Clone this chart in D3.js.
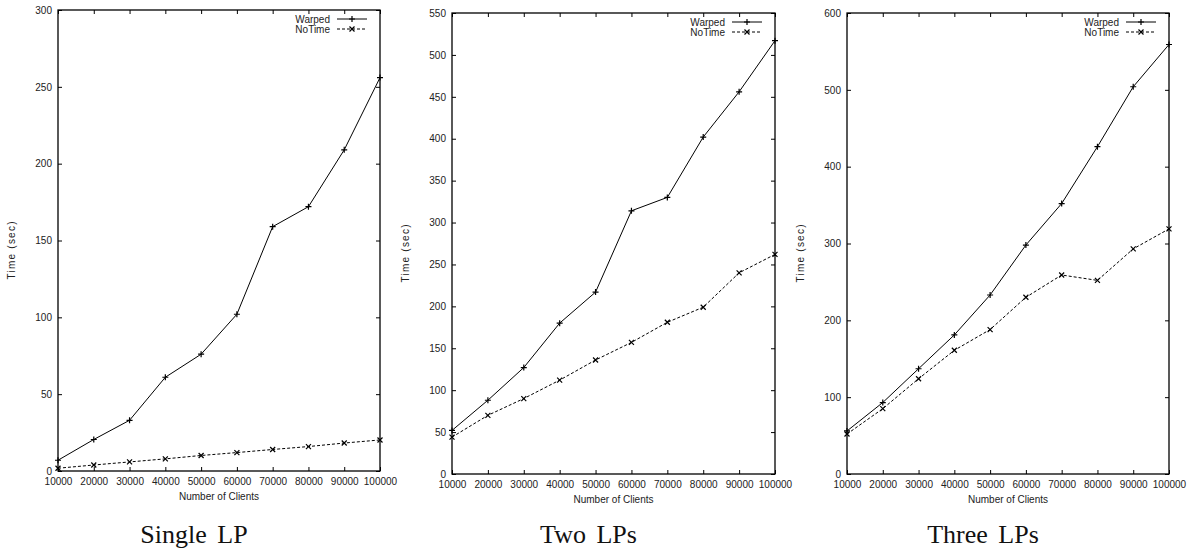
<!DOCTYPE html>
<html>
<head>
<meta charset="utf-8">
<script src="https://cdn.jsdelivr.net/npm/d3@7/dist/d3.min.js"></script>
<style>
  body { margin: 0; background: #fff; }
  svg { display: block; }
  .tick-label { font-family: "Liberation Sans", Arial, sans-serif; font-size: 10px; fill: #222; }
  .axis-title { font-family: "Liberation Sans", Arial, sans-serif; font-size: 10px; fill: #222; }
  .panel-title { font-family: "Liberation Serif", "Times New Roman", serif; font-size: 26px; fill: #111; }
</style>
</head>
<body>
<svg id="chart" width="1191" height="552"></svg>
<script>
// ---- data ----
const clients = [10000, 20000, 30000, 40000, 50000, 60000, 70000, 80000, 90000, 100000];
const panelTitles = ["Single LP", "Two LPs", "Three LPs"];
const seriesNames = ["Warped", "NoTime"];

const warpedSingle = [7, 20.5, 33, 61, 76, 102, 159, 172, 209, 256];
const noTimeSingle = [1.8, 3.9, 5.9, 7.9, 10.1, 12, 14, 15.9, 18.2, 20.2];

const warpedTwo = [52, 88, 127, 180, 217, 314, 330, 402, 456, 517];
const noTimeTwo = [44, 70, 90, 112, 136, 157, 181, 199, 240, 262];

const warpedThree = [56, 93, 137, 181, 233, 298, 352, 426, 504, 559];
const noTimeThree = [52, 85, 124, 161, 188, 230, 259, 252, 293, 319];

const yTicksSingle = [0, 50, 100, 150, 200, 250, 300];
const yTicksTwo = [0, 50, 100, 150, 200, 250, 300, 350, 400, 450, 500, 550];
const yTicksThree = [0, 100, 200, 300, 400, 500, 600];

const xLabel = "Number of Clients";
const yLabel = "Time (sec)";

// ---- layout ----
const panels = [
  { title: panelTitles[0], warped: warpedSingle, noTime: noTimeSingle, yTicks: yTicksSingle, L: 58, R: 380, T: 10, B: 471 },
  { title: panelTitles[1], warped: warpedTwo, noTime: noTimeTwo, yTicks: yTicksTwo, L: 452, R: 775, T: 13, B: 474 },
  { title: panelTitles[2], warped: warpedThree, noTime: noTimeThree, yTicks: yTicksThree, L: 847, R: 1169, T: 13, B: 474 }
];

const svg = d3.select("#chart");
const tickLen = 4;

panels.forEach(p => {
  const g = svg.append("g");
  const x = d3.scaleLinear().domain([clients[0], clients[clients.length - 1]]).range([p.L, p.R]);
  const y = d3.scaleLinear().domain([p.yTicks[0], p.yTicks[p.yTicks.length - 1]]).range([p.B, p.T]);

  // x axis bottom (inward ticks) and top mirror
  const xb = g.append("g").attr("transform", `translate(0,${p.B})`)
    .call(d3.axisBottom(x).tickValues(clients).tickSizeInner(-tickLen).tickSizeOuter(0).tickPadding(8).tickFormat(d3.format("d")));
  const xt = g.append("g").attr("transform", `translate(0,${p.T})`)
    .call(d3.axisTop(x).tickValues(clients).tickSizeInner(-tickLen).tickSizeOuter(0).tickFormat(""));
  const yl = g.append("g").attr("transform", `translate(${p.L},0)`)
    .call(d3.axisLeft(y).tickValues(p.yTicks).tickSizeInner(-tickLen).tickSizeOuter(0).tickPadding(6).tickFormat(d3.format("d")));
  const yr = g.append("g").attr("transform", `translate(${p.R},0)`)
    .call(d3.axisRight(y).tickValues(p.yTicks).tickSizeInner(-tickLen).tickSizeOuter(0).tickFormat(""));

  [xb, xt, yl, yr].forEach(a => {
    a.select(".domain").remove();
    a.selectAll("line").attr("stroke", "#000").attr("stroke-width", 1);
    a.selectAll("text").attr("class", "tick-label").attr("font-family", null).attr("font-size", null).attr("fill", null);
  });
  xb.selectAll("text").attr("dy", "0.71em").attr("y", 7);

  // frame
  g.append("rect").attr("x", p.L).attr("y", p.T).attr("width", p.R - p.L).attr("height", p.B - p.T)
    .attr("fill", "none").attr("stroke", "#000").attr("stroke-width", 1.3);

  // axis titles
  g.append("text").attr("class", "axis-title").attr("text-anchor", "middle")
    .attr("x", (p.L + p.R) / 2).attr("y", p.B + 29).text(xLabel);
  g.append("text").attr("class", "axis-title").attr("text-anchor", "middle")
    .attr("transform", `translate(${p.L - 43},${(p.T + p.B) / 2 + 10}) rotate(-90)`)
    .attr("textLength", 58).attr("lengthAdjust", "spacing").text(yLabel);

  // panel title
  g.append("text").attr("class", "panel-title").attr("text-anchor", "middle")
    .attr("x", (p.L + p.R) / 2 - 25).attr("y", 543).attr("word-spacing", "4px").text(p.title);

  const line = d3.line().x((d, i) => x(clients[i])).y(d => y(d));

  // series
  g.append("path").datum(p.warped).attr("d", line)
    .attr("fill", "none").attr("stroke", "#000").attr("stroke-width", 1);
  g.append("path").datum(p.noTime).attr("d", line)
    .attr("fill", "none").attr("stroke", "#000").attr("stroke-width", 1).attr("stroke-dasharray", "3,2");

  const plusPath = (cx, cy, s) => `M${cx - s},${cy}H${cx + s}M${cx},${cy - s}V${cy + s}`;
  const crossPath = (cx, cy, s) => `M${cx - s},${cy - s}L${cx + s},${cy + s}M${cx - s},${cy + s}L${cx + s},${cy - s}`;

  g.append("g").selectAll("path").data(p.warped).join("path")
    .attr("d", (d, i) => plusPath(x(clients[i]), y(d), 3))
    .attr("stroke", "#000").attr("stroke-width", 1.2).attr("fill", "none");
  g.append("g").selectAll("path").data(p.noTime).join("path")
    .attr("d", (d, i) => crossPath(x(clients[i]), y(d), 2.5))
    .attr("stroke", "#000").attr("stroke-width", 1.2).attr("fill", "none");

  // legend
  const lx = p.R - 50;
  const rows = [
    { name: seriesNames[0], dy: 12.5, dash: null, mark: plusPath, s: 3 },
    { name: seriesNames[1], dy: 22.5, dash: "3,2", mark: crossPath, s: 2.5 }
  ];
  rows.forEach(r => {
    const yy = p.T + r.dy;
    g.append("text").attr("class", "tick-label").attr("text-anchor", "end")
      .attr("x", lx).attr("y", yy).text(r.name);
    const ly = yy - 3.5;
    g.append("line").attr("x1", p.R - 43).attr("x2", p.R - 13).attr("y1", ly).attr("y2", ly)
      .attr("stroke", "#000").attr("stroke-width", 1).attr("stroke-dasharray", r.dash);
    g.append("path").attr("d", r.mark(p.R - 28, ly, r.s))
      .attr("stroke", "#000").attr("stroke-width", 1.2).attr("fill", "none");
  });
});
</script>
</body>
</html>
